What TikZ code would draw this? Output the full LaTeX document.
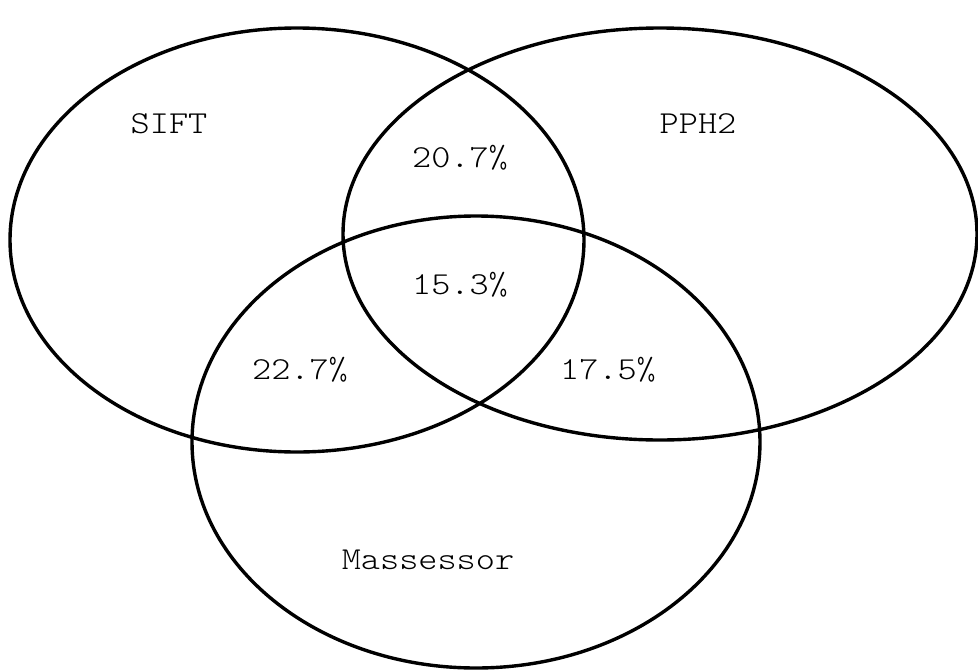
\documentclass[tikz,border=0pt]{standalone}
\usepackage{fontspec}
\setmonofont[FakeStretch=1.14]{Latin Modern Mono Light}
\begin{document}
\begin{tikzpicture}[x=1pt,y=-1pt,
  setring/.style={draw=black,line width=3.4pt},
  lbl/.style={font=\ttfamily\fontsize{32}{33}\selectfont,inner sep=0pt,anchor=center}]
\useasboundingbox (0,0) rectangle (978,670);
% three overlapping sets
\draw[setring] (297,240) ellipse [x radius=287, y radius=212];
\draw[setring] (660,234) ellipse [x radius=317, y radius=206];
\draw[setring] (476,442) ellipse [x radius=284, y radius=226];
% set names
\node[lbl] (sift) at (169,124) {SIFT};
\node[lbl] (pph) at (698,124) {PPH2};
\node[lbl] (mass) at (428,560) {Massessor};
% overlap shares
\node[lbl] (sp) at (460,158) {20.7\%};
\node[lbl] (all) at (460,285) {15.3\%};
\node[lbl] (sm) at (300,370) {22.7\%};
\node[lbl] (pm) at (608,370) {17.5\%};
\end{tikzpicture}
\end{document}
